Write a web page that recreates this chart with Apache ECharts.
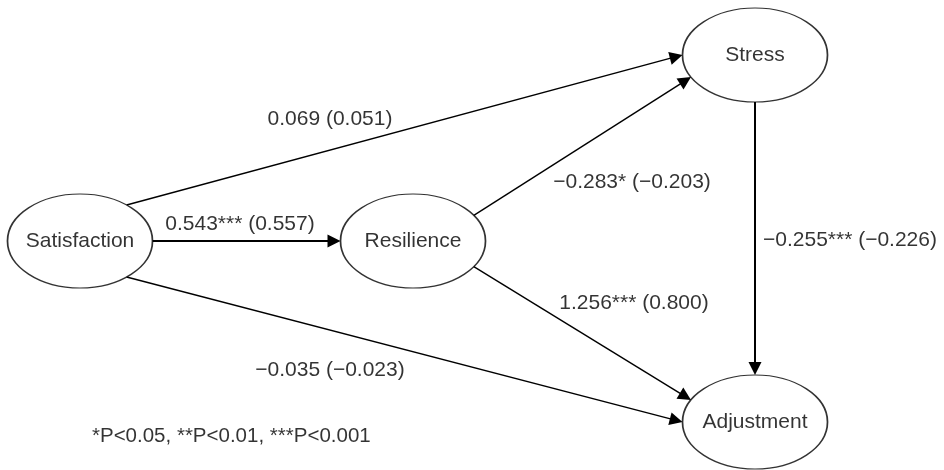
<!DOCTYPE html>
<html>
<head>
<meta charset="utf-8">
<script src="https://cdn.jsdelivr.net/npm/echarts@6/dist/echarts.min.js"></script>
<style>
html,body{margin:0;padding:0;background:#fff;}
#chart{width:944px;height:470px;}
</style>
</head>
<body>
<div id="chart"></div>
<script>
// ---- data ----
const nodeNames = ['Satisfaction', 'Resilience', 'Stress', 'Adjustment'];
const nodeX = [80, 413, 755, 755];
const nodeY = [241, 241, 55, 422];
const edgeFrom = [0, 0, 0, 1, 1, 2];
const edgeTo   = [2, 1, 3, 2, 3, 3];
const coefs    = ['0.069', '0.543***', '\u22120.035', '\u22120.283*', '1.256***', '\u22120.255***'];
const stdCoefs = ['0.051', '0.557', '\u22120.023', '\u22120.203', '0.800', '\u22120.226'];
const noteText = '*P<0.05, **P<0.01, ***P<0.001';

// ---- layout (not data) ----
const ELL_W = 145, ELL_H = 94;
const ARROW_W = 11, ARROW_L = 13;
// parametric angles (deg) where each edge leaves its source / meets its target ellipse
const edgeAnchors = [[-50, 180], [0, 180], [50, 180], [-33, 152], [33, -152], [90, -90]];
const edgeWidths = [1.4, 2, 1.4, 1.4, 1.4, 2];
// where each coefficient label sits, and how it is aligned
const labelPos = [[330, 119], [240, 224], [330, 370], [632, 182], [634, 303], [763, 240]];
const labelAlign = ['center', 'center', 'center', 'center', 'center', 'left'];
const notePos = [92, 436];
const FONT = '"Liberation Sans", Arial, Helvetica, sans-serif';

function ellPoint(i, deg) {
  const t = deg * Math.PI / 180;
  return [nodeX[i] + ELL_W / 2 * Math.cos(t), nodeY[i] + ELL_H / 2 * Math.sin(t)];
}

const edgeData = edgeFrom.map((s, k) => {
  const p0 = ellPoint(s, edgeAnchors[k][0]);
  const tip = ellPoint(edgeTo[k], edgeAnchors[k][1]);
  const dx = tip[0] - p0[0], dy = tip[1] - p0[1];
  const len = Math.sqrt(dx * dx + dy * dy);
  const p1 = [tip[0] - dx / len * ARROW_L / 2, tip[1] - dy / len * ARROW_L / 2];
  return { coords: [p0, p1], lineStyle: { width: edgeWidths[k] } };
});

const labelData = coefs.map((c, k) => ({
  value: labelPos[k],
  label: { formatter: c + ' (' + stdCoefs[k] + ')', align: labelAlign[k] }
}));
labelData.push({ value: notePos, label: { formatter: noteText, align: 'left', fontSize: 20.5 } });

const ellipsePath = 'path://M50,0C77.6,0,100,22.4,100,50C100,77.6,77.6,100,50,100C22.4,100,0,77.6,0,50C0,22.4,22.4,0,50,0Z';

const chart = echarts.init(document.getElementById('chart'));
chart.setOption({
  animation: false,
  backgroundColor: '#fff',
  grid: { left: 0, right: 0, top: 0, bottom: 0, containLabel: false },
  xAxis: { type: 'value', min: 0, max: 944, show: false },
  yAxis: { type: 'value', min: 0, max: 470, inverse: true, show: false },
  series: [
    {
      type: 'lines',
      coordinateSystem: 'cartesian2d',
      silent: true,
      z: 1,
      symbol: ['none', 'triangle'],
      symbolSize: [ARROW_W, ARROW_L],
      lineStyle: { color: '#000', width: 1.4, opacity: 1, curveness: 0 },
      itemStyle: { color: '#000' },
      data: edgeData
    },
    {
      type: 'scatter',
      silent: true,
      z: 3,
      symbol: ellipsePath,
      symbolSize: [ELL_W, ELL_H],
      itemStyle: { color: '#fff', borderColor: '#000', borderWidth: 1.4 },
      label: {
        show: true, position: 'inside', formatter: p => p.name,
        color: '#000', fontSize: 21, fontFamily: FONT
      },
      data: nodeNames.map((n, i) => ({ name: n, value: [nodeX[i], nodeY[i]] }))
    },
    {
      type: 'scatter',
      silent: true,
      z: 4,
      symbol: 'circle',
      symbolSize: 1,
      itemStyle: { color: 'rgba(0,0,0,0)' },
      label: {
        show: true, position: 'inside', verticalAlign: 'middle',
        color: '#000', fontSize: 21, fontFamily: FONT
      },
      data: labelData
    }
  ]
});
</script>
</body>
</html>
